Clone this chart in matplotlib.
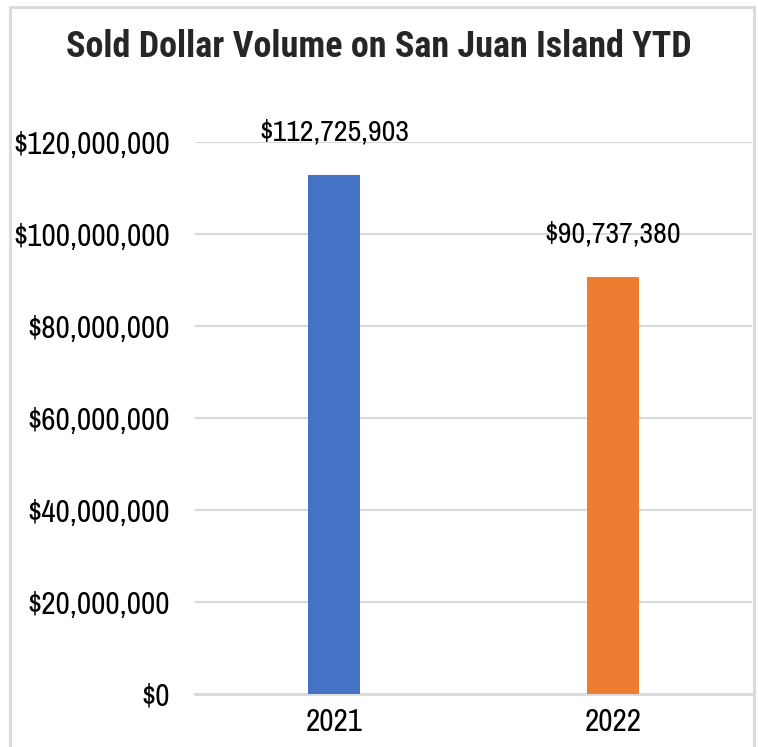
import matplotlib
matplotlib.use("Agg")
import matplotlib.pyplot as plt
from matplotlib.patches import Rectangle
from matplotlib.ticker import FuncFormatter

years = ["2021", "2022"]
volumes = [112725903, 90737380]
bar_colors = ["#4472C4", "#ED7D31"]
y_ticks = [0, 20000000, 40000000, 60000000, 80000000, 100000000, 120000000]

plt.rcParams["font.family"] = ["Archivo Narrow", "DejaVu Sans"]

fig = plt.figure(figsize=(7.58, 7.47), dpi=100)
W, H = 758, 747

# light frame round the whole chart
fig.patches.append(Rectangle((10 / W, -0.01), 744 / W, 1 - 7 / H + 0.01,
                             transform=fig.transFigure, fill=False,
                             edgecolor="#D9D9D9", linewidth=2))

ax = fig.add_axes([195 / W, 1 - 694 / H, 557 / W, (694 - 142) / H])
x = range(len(years))
ax.bar(x, volumes, width=0.187, color=bar_colors, zorder=3)
ax.set_xlim(-0.5, 1.5)
ax.set_ylim(0, 120000000)
ax.set_yticks(y_ticks)
ax.yaxis.set_major_formatter(FuncFormatter(lambda v, _: f"${v:,.0f}"))
ax.set_xticks(list(x))
ax.set_xticklabels(years)
ax.tick_params(axis="both", length=0, labelsize=22.5, colors="black")
ax.tick_params(axis="y", pad=18)
ax.tick_params(axis="x", pad=10)
ax.grid(axis="y", color="#D9D9D9", linewidth=1.5, zorder=0)
for side in ["top", "right", "left"]:
    ax.spines[side].set_visible(False)
ax.spines["bottom"].set_color("#D9D9D9")
ax.spines["bottom"].set_linewidth(2)

for xi, v in zip(x, volumes):
    ax.annotate(f"${v:,.0f}", (xi, v), xytext=(0, 31), textcoords="offset points",
                ha="center", va="center", fontsize=21.5)

fig.text(0.5, 1 - 47 / H, "Sold Dollar Volume on San Juan Island YTD",
         ha="center", va="center", fontsize=26, fontweight="bold",
         family=["Roboto Condensed", "DejaVu Sans"], color="#262626")

fig.savefig("out.png", dpi=100)
